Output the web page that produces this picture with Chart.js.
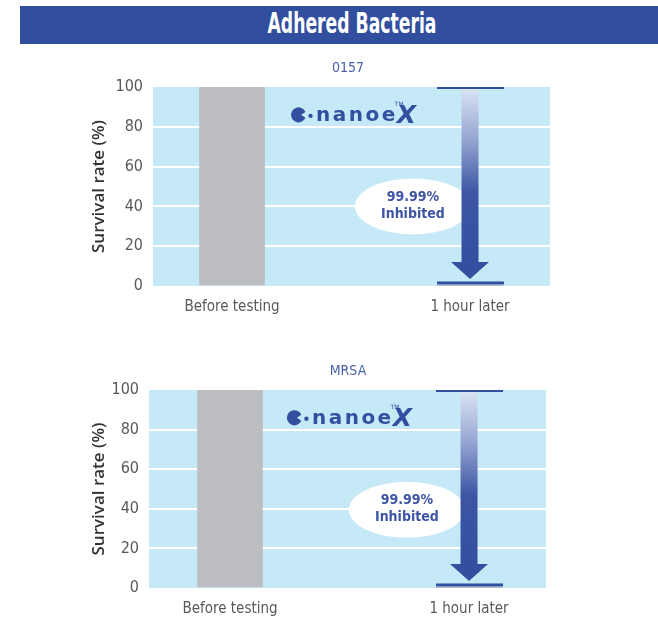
<!DOCTYPE html>
<html>
<head>
<meta charset="utf-8">
<script src="https://cdn.jsdelivr.net/npm/chart.js@4/dist/chart.umd.min.js"></script>
<style>
  body { margin: 0; background: #fff; width: 658px; height: 624px; position: relative; overflow: hidden; }
  #banner { position: absolute; left: 20px; top: 6px; width: 638px; height: 38px; background: #324f9f; }
  #banner span {
    position: absolute; left: 332px; top: 0; line-height: 38px; white-space: nowrap;
    font: bold 29px 'DejaVu Sans Condensed', sans-serif; color: #fff;
    transform: translateX(-50%) scaleX(0.66);
  }
  canvas { position: absolute; left: 0; }
</style>
</head>
<body>
<div id="banner"><span>Adhered Bacteria</span></div>
<canvas id="chart-o157" width="658" height="275" style="top:50px"></canvas>
<canvas id="chart-mrsa" width="658" height="269" style="top:355px"></canvas>
<script>
const categories = ['Before testing', '1 hour later'];
const o157Survival = [100, 0.01];
const mrsaSurvival = [100, 0.01];
const yTicks = [0, 20, 40, 60, 80, 100];
const reductionLabel = ['99.99%', 'Inhibited'];

const BLUE = '#3350a0';
const FONT = "'DejaVu Sans Condensed', sans-serif";

const plotBg = {
  id: 'plotBg',
  beforeDraw(chart) {
    const { ctx, chartArea: a } = chart;
    ctx.save();
    ctx.fillStyle = '#c6e9f8';
    ctx.fillRect(a.left, a.top, a.right - a.left, a.bottom - a.top);
    ctx.restore();
  }
};

// subtitle, "99.99% Inhibited" bubble, arrow and logo
const decor = {
  id: 'decor',
  afterDatasetsDraw(chart, args, o) {
    const { ctx, chartArea: a, scales: { x, y } } = chart;
    const vals = chart.data.datasets[0].data;
    ctx.save();
    ctx.textAlign = 'center';
    ctx.textBaseline = 'middle';

    ctx.fillStyle = '#4a5fa8';
    ctx.font = `14px ${FONT}`;
    ctx.fillText(o.subtitle, o.subtitleX, a.top - 19);

    // bubble
    const bx = x.getPixelForValue(o.bubble[0]);
    const by = y.getPixelForValue(o.bubble[1]);
    ctx.fillStyle = '#fff';
    ctx.beginPath();
    ctx.ellipse(bx, by, 58, 28, 0, 0, Math.PI * 2);
    ctx.fill();
    ctx.fillStyle = '#3e55a5';
    ctx.font = `bold 14px ${FONT}`;
    ctx.fillText(reductionLabel[0], bx, by - 9);
    ctx.fillText(reductionLabel[1], bx, by + 8);

    // arrow from before value down to after value
    const ax = x.getPixelForValue(1);
    const yTop = y.getPixelForValue(vals[0].y);
    const yBot = y.getPixelForValue(vals[1].y) - 3;
    ctx.fillStyle = BLUE;
    ctx.fillRect(ax - 33, yTop, 67, 2);
    ctx.fillRect(ax - 33, yBot - 1.5, 67, 3);
    const tip = yBot - 4;
    const headTop = tip - 17;
    const grad = ctx.createLinearGradient(0, yTop, 0, headTop);
    grad.addColorStop(0, '#dbe5f3');
    grad.addColorStop(0.3, '#96a5d2');
    grad.addColorStop(0.6, '#3d56a4');
    grad.addColorStop(1, BLUE);
    ctx.fillStyle = grad;
    ctx.fillRect(ax - 8.5, yTop + 2, 17, headTop - yTop - 1);
    ctx.fillStyle = BLUE;
    ctx.beginPath();
    ctx.moveTo(ax - 19, headTop);
    ctx.lineTo(ax + 19, headTop);
    ctx.lineTo(ax, tip);
    ctx.closePath();
    ctx.fill();

    // nanoe X logo
    const lx = x.getPixelForValue(o.logo[0]);
    const ly = y.getPixelForValue(o.logo[1]);
    ctx.beginPath();
    ctx.arc(lx + 7.5, ly, 7.5, 0.4, Math.PI * 2 - 0.4);
    ctx.lineTo(lx + 10, ly);
    ctx.closePath();
    ctx.fill();
    ctx.beginPath();
    ctx.arc(lx + 19.5, ly + 1, 2.2, 0, Math.PI * 2);
    ctx.fill();
    ctx.textAlign = 'left';
    ctx.textBaseline = 'alphabetic';
    ctx.font = "bold 20px 'DejaVu Sans', sans-serif";
    ctx.letterSpacing = '2.5px';
    ctx.fillText('nanoe', lx + 25, ly + 6);
    const w = ctx.measureText('nanoe').width;
    ctx.letterSpacing = '0px';
    ctx.font = "bold italic 25px 'DejaVu Sans', sans-serif";
    ctx.fillText('X', lx + 24 + w, ly + 8);
    ctx.font = "6px 'DejaVu Sans', sans-serif";
    ctx.fillText('TM', lx + 22 + w, ly - 9);
    ctx.restore();
  }
};

function makeChart(id, values, cfg) {
  const canvas = document.getElementById(id);
  return new Chart(canvas.getContext('2d'), {
    type: 'bar',
    data: {
      datasets: [{
        data: values.map((v, i) => ({ x: i, y: v })),
        backgroundColor: '#bcbdc1',
        barThickness: 65
      }]
    },
    options: {
      responsive: false,
      animation: false,
      layout: { padding: { top: cfg.padTop, right: cfg.padRight, left: 0, bottom: 0 } },
      plugins: {
        legend: { display: false },
        tooltip: { enabled: false },
        decor: cfg
      },
      scales: {
        x: {
          type: 'linear',
          offset: false,
          min: cfg.xMin,
          max: cfg.xMax,
          afterBuildTicks: (s) => { s.ticks = categories.map((_, i) => ({ value: i })); },
          afterFit: (s) => { s.height = cfg.xHeight; },
          ticks: {
            callback: (v) => categories[v] ?? '',
            font: { family: FONT, size: 15 },
            color: '#58595b',
            padding: 4,
            maxRotation: 0
          },
          grid: { display: false },
          border: { display: false }
        },
        y: {
          min: 0,
          max: 100,
          afterBuildTicks: (s) => { s.ticks = yTicks.map(v => ({ value: v })); },
          afterFit: (s) => { s.width = cfg.yWidth; },
          ticks: {
            font: { family: FONT, size: 16 },
            color: '#58595b',
            padding: 10
          },
          grid: {
            color: (c) => (c.tick.value > 0 && c.tick.value < 100 ? '#fff' : 'transparent'),
            lineWidth: 2,
            drawTicks: false
          },
          border: { display: false },
          title: {
            display: true,
            text: 'Survival rate (%)',
            font: { family: "'Open Sans', sans-serif", size: 17, weight: 600 },
            color: '#333',
            padding: { top: 89, bottom: 0 }
          }
        }
      }
    },
    plugins: [plotBg, decor]
  });
}

makeChart('chart-o157', o157Survival, {
  subtitle: '0157', subtitleX: 348,
  padTop: 37, padRight: 108, yWidth: 153, xHeight: 39,
  xMin: -0.332, xMax: 1.336,
  bubble: [0.76, 40], logo: [0.248, 86]
});

makeChart('chart-mrsa', mrsaSurvival, {
  subtitle: 'MRSA', subtitleX: 348,
  padTop: 35, padRight: 112, yWidth: 149, xHeight: 36,
  xMin: -0.339, xMax: 1.322,
  bubble: [0.74, 39.5], logo: [0.238, 86]
});
</script>
</body>
</html>
